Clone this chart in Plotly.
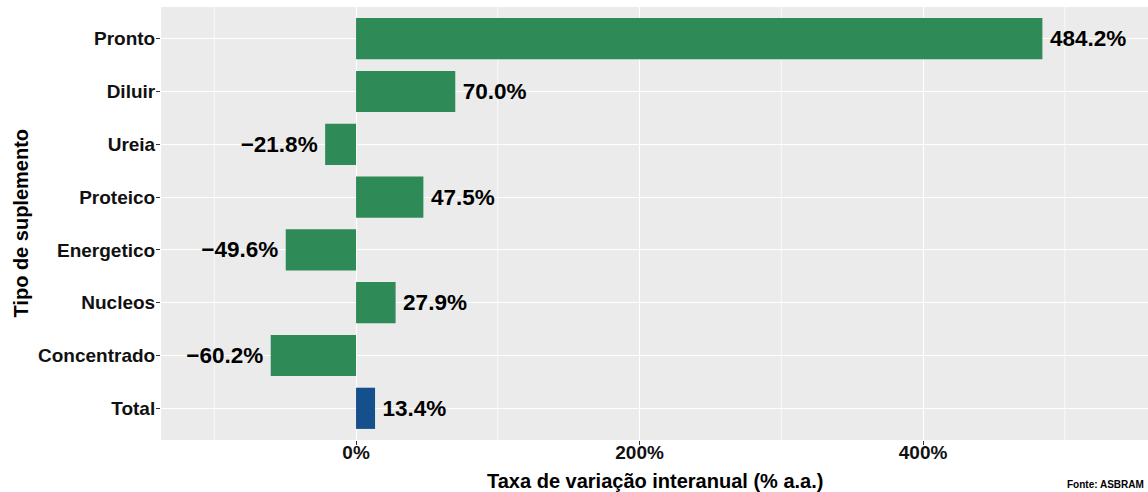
import plotly.graph_objects as go

categories = ["Total", "Concentrado", "Nucleos", "Energetico", "Proteico", "Ureia", "Diluir", "Pronto"]
values = [13.4, -60.2, 27.9, -49.6, 47.5, -21.8, 70.0, 484.2]
colors = ["#154F8C", "#2E8B57", "#2E8B57", "#2E8B57", "#2E8B57", "#2E8B57", "#2E8B57", "#2E8B57"]
x_ticks = [0, 200, 400]
x_tick_labels = ["0%", "200%", "400%"]
minor_ticks = [-100, 100, 300, 500]

GAP = "\u2009"
labels = [
    (GAP + f"{v:.1f}%") if v >= 0 else (f"{v:.1f}%".replace("-", "\u2212") + GAP)
    for v in values
]

FONT = "Liberation Sans, Arial, sans-serif"

fig = go.Figure(go.Bar(
    y=categories, x=values, orientation="h",
    marker=dict(color=colors, line=dict(width=0)),
    width=0.78,
    text=labels, textposition="outside", constraintext="none",
    textfont=dict(family=FONT, size=22.5, color="#000000", weight="bold"),
    cliponaxis=False,
))

for m in minor_ticks:
    fig.add_vline(x=m, line=dict(color="#FFFFFF", width=0.7), layer="below")

fig.update_layout(
    width=1148, height=492,
    margin=dict(l=161, r=0, t=7, b=52),
    paper_bgcolor="#FFFFFF", plot_bgcolor="#EBEBEB",
    font=dict(family=FONT, color="#000000"),
    showlegend=False,
    xaxis=dict(
        range=[-137.6, 558.7], tickvals=x_ticks, ticktext=x_tick_labels,
        showgrid=True, gridcolor="#FFFFFF", gridwidth=1.4, zeroline=False,
        ticks="outside", ticklen=4, tickcolor="#333333", automargin=False,
        ticklabelstandoff=-9,
        tickfont=dict(family=FONT, size=19, color="#111111", weight="bold"),
    ),
    yaxis=dict(
        range=[-0.6, 7.6], categoryorder="array", categoryarray=categories,
        showgrid=True, gridcolor="#FFFFFF", gridwidth=1.4, zeroline=False,
        ticks="outside", ticklen=4, tickcolor="#333333", automargin=False,
        ticklabelstandoff=-3,
        tickfont=dict(family=FONT, size=19, color="#111111", weight="bold"),
    ),
)

fig.add_annotation(
    text="<b>Taxa de variação interanual (% a.a.)</b>", xref="paper", yref="paper",
    x=0.5, y=0, xanchor="center", yanchor="middle", yshift=-41,
    showarrow=False, font=dict(family=FONT, size=20, color="#000000"),
)
fig.add_annotation(
    text="<b>Tipo de suplemento</b>", xref="paper", yref="paper", textangle=-90,
    x=0, y=0.5, xanchor="center", yanchor="middle", xshift=-141,
    showarrow=False, font=dict(family=FONT, size=20, color="#000000"),
)
fig.add_annotation(
    text="<b>Fonte: ASBRAM</b>", xref="paper", yref="paper",
    x=1.0, y=0, xanchor="right", yanchor="bottom", yshift=-52, xshift=-2,
    showarrow=False, font=dict(family=FONT, size=10, color="#000000"),
)

fig.write_html(
    "out.html",
    config={"displayModeBar": False},
    post_script="document.body.style.margin='0';document.body.style.overflow='hidden';",
)
